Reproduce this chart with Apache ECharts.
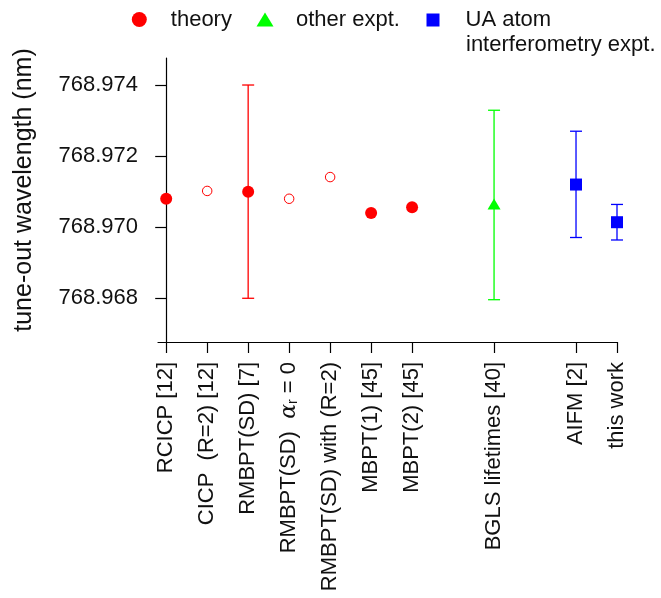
<!DOCTYPE html>
<html>
<head>
<meta charset="utf-8">
<script src="https://cdn.jsdelivr.net/npm/echarts@6/dist/echarts.min.js"></script>
<style>
html,body{margin:0;padding:0;background:#fff;}
#chart{width:661px;height:598px;}
</style>
</head>
<body>
<div id="chart"></div>
<script>
// ---- data ----
const categories = ['RCICP [12]', 'CICP  (R=2) [12]', 'RMBPT(SD) [7]', 'RMBPT(SD)  \u03b1r = 0', 'RMBPT(SD) with (R=2)', 'MBPT(1) [45]', 'MBPT(2) [45]', 'BGLS lifetimes [40]', 'AIFM [2]', 'this work'];
const positions = [0, 1, 2, 3, 4, 5, 6, 8, 10, 11];
const yTicks = [768.968, 768.970, 768.972, 768.974];
// theory, filled markers: [position, value]
const theoryFilled = [[0, 768.9708], [2, 768.9710], [5, 768.9704], [6, 768.97056]];
// theory, open markers
const theoryOpen = [[1, 768.97102], [3, 768.9708], [4, 768.97141]];
// theory error bars: [position, low, high]
const theoryErr = [[2, 768.968, 768.974]];
// other experiments
const otherExpt = [[8, 768.97065]];
const otherErr = [[8, 768.96796, 768.97329]];
// UA atom interferometry experiments
const uaExpt = [[10, 768.9712], [11, 768.97014]];
const uaErr = [[10, 768.96971, 768.9727], [11, 768.96964, 768.97064]];
const legendNames = ['theory', 'other expt.', 'UA atom', 'interferometry expt.'];

const RED = '#ff0000', GREEN = '#00ff00', BLUE = '#0000ff';
const FONT = "'Liberation Sans', Arial, Helvetica, sans-serif";

function errSeries(name, data, color) {
  return {
    type: 'custom',
    name: name,
    data: data,
    z: 1,
    silent: true,
    renderItem: function (params, api) {
      const x = api.value(0), lo = api.value(1), hi = api.value(2);
      const p1 = api.coord([x, lo]), p2 = api.coord([x, hi]);
      const w = 6;
      const style = { stroke: color, lineWidth: 1.3, fill: null };
      return {
        type: 'group',
        children: [
          { type: 'line', shape: { x1: p1[0], y1: p1[1], x2: p2[0], y2: p2[1] }, style: style },
          { type: 'line', shape: { x1: p1[0] - w, y1: p1[1], x2: p1[0] + w, y2: p1[1] }, style: style },
          { type: 'line', shape: { x1: p2[0] - w, y1: p2[1], x2: p2[0] + w, y2: p2[1] }, style: style }
        ]
      };
    },
    encode: { x: 0, y: [1, 2] }
  };
}

const chart = echarts.init(document.getElementById('chart'), null, { renderer: 'canvas' });

const legendText = { fontFamily: FONT, fontSize: 22, color: '#111', lineHeight: 27 };

const option = {
  animation: false,
  backgroundColor: '#fff',
  textStyle: { fontFamily: FONT },
  legend: [
    {
      data: [legendNames[0]], left: 131.8, top: 6, padding: 0,
      itemWidth: 15, itemHeight: 15, selectedMode: false,
      textStyle: Object.assign({}, legendText, { padding: [0, 0, 0, 19] })
    },
    {
      data: [legendNames[1]], left: 256.5, top: 6, padding: 0,
      itemWidth: 17, itemHeight: 14, symbolKeepAspect: false, selectedMode: false,
      textStyle: Object.assign({}, legendText, { padding: [0, 0, 0, 17.5] })
    },
    {
      data: [legendNames[2]], left: 426.5, top: 6.5, padding: 0,
      itemWidth: 13, itemHeight: 13, selectedMode: false,
      textStyle: Object.assign({}, legendText, { padding: [0, 0, 0, 21] })
    }
  ],
  graphic: [
    {
      type: 'text', left: 466, top: 34,
      style: { text: legendNames[3], fontFamily: FONT, fontSize: 22, fill: '#111' }
    }
  ],
  grid: { left: 158, right: 44, top: 58, bottom: 256, containLabel: false },
  xAxis: {
    type: 'value',
    min: -0.2,
    max: 11,
    splitLine: { show: false },
    axisLine: { show: true, lineStyle: { color: '#000', width: 1.2 } },
    axisTick: { show: true, customValues: positions, length: 11, inside: false, lineStyle: { color: '#000', width: 1.2 } },
    axisLabel: {
      customValues: positions,
      rotate: 90,
      margin: 20,
      fontFamily: FONT,
      fontSize: 22,
      color: '#111',
      formatter: function (v) {
        const i = positions.indexOf(Math.round(v));
        if (i < 0) return '';
        const s = categories[i];
        if (s.indexOf('\u03b1r') >= 0) {
          const parts = s.split('\u03b1r');
          return '{n|' + parts[0] + '}{a|\u03b1}{s|r}{n|' + parts[1] + '}';
        }
        return s;
      },
      rich: {
        n: { fontFamily: FONT, fontSize: 22, color: '#111' },
        a: { fontFamily: "'DejaVu Serif', serif", fontStyle: 'italic', fontSize: 22, color: '#111' },
        s: { fontFamily: FONT, fontSize: 14, color: '#111', verticalAlign: 'bottom', padding: [8, 0, 0, 0] }
      }
    }
  },
  yAxis: {
    type: 'value',
    min: 768.96677,
    max: 768.97476,
    name: 'tune-out wavelength (nm)',
    nameLocation: 'middle',
    nameRotate: 90,
    nameGap: 121,
    nameTextStyle: { fontFamily: FONT, fontSize: 25, color: '#111', padding: [0, 0, 0, 20] },
    splitLine: { show: false },
    axisLine: { show: true, lineStyle: { color: '#000', width: 1.2 } },
    axisTick: { show: true, customValues: yTicks, length: 11, inside: false, lineStyle: { color: '#000', width: 1.2 } },
    axisLabel: {
      customValues: yTicks,
      margin: 20,
      fontFamily: FONT,
      fontSize: 22,
      color: '#111',
      formatter: function (v) { return v.toFixed(3); }
    }
  },
  series: [
    errSeries('theory error', theoryErr, RED),
    errSeries('other error', otherErr, GREEN),
    errSeries('UA error', uaErr, BLUE),
    {
      type: 'scatter', name: legendNames[0], data: theoryFilled, z: 3,
      symbol: 'circle', symbolSize: 12,
      itemStyle: { color: RED, opacity: 1 }
    },
    {
      type: 'scatter', name: 'theory (open)', data: theoryOpen, z: 3,
      symbol: 'circle', symbolSize: 9.5,
      itemStyle: { color: '#fff', borderColor: RED, borderWidth: 1, opacity: 1 }
    },
    {
      type: 'scatter', name: legendNames[1], data: otherExpt, z: 3,
      symbol: 'triangle', symbolSize: [13, 11],
      itemStyle: { color: GREEN, opacity: 1 }
    },
    {
      type: 'scatter', name: legendNames[2], data: uaExpt, z: 3,
      symbol: 'rect', symbolSize: 12,
      itemStyle: { color: BLUE, opacity: 1 }
    }
  ]
};
chart.setOption(option);
</script>
</body>
</html>
